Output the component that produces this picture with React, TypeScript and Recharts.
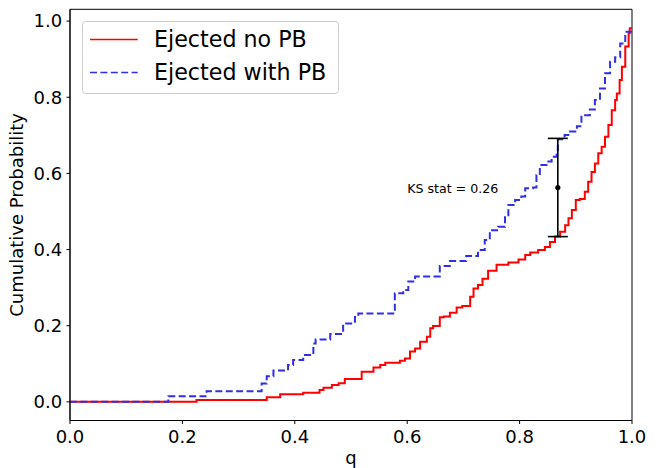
import React from 'react';
import {
  ComposedChart,
  Line,
  Scatter,
  ErrorBar,
  XAxis,
  YAxis,
  Legend,
  ReferenceDot,
  ReferenceArea,
} from 'recharts';

// ---- data ----
const qNoPB = [
  0, 0.225, 0.35, 0.374, 0.415, 0.444, 0.451, 0.466, 0.478, 0.489, 0.519, 0.54, 0.552, 0.561, 0.587,
  0.596, 0.605, 0.614, 0.623, 0.635, 0.641, 0.646, 0.658, 0.665, 0.676, 0.688, 0.698, 0.712, 0.718,
  0.726, 0.734, 0.744, 0.759, 0.78, 0.798, 0.81, 0.819, 0.833, 0.845, 0.854, 0.863, 0.872, 0.881,
  0.887, 0.893, 0.9, 0.907, 0.916, 0.922, 0.928, 0.934, 0.94, 0.946, 0.952, 0.958, 0.964, 0.97,
  0.973, 0.978, 0.982, 0.988, 0.994, 0.996, 1.0,
];
const cdfNoPB = [
  0, 0.005, 0.012, 0.02, 0.024, 0.031, 0.037, 0.044, 0.049, 0.06, 0.079, 0.09, 0.097, 0.103, 0.108,
  0.114, 0.132, 0.14, 0.158, 0.171, 0.193, 0.199, 0.222, 0.224, 0.234, 0.248, 0.252, 0.276, 0.298,
  0.307, 0.323, 0.344, 0.36, 0.366, 0.374, 0.386, 0.392, 0.399, 0.407, 0.42, 0.434, 0.447, 0.464,
  0.482, 0.504, 0.53, 0.533, 0.552, 0.578, 0.604, 0.626, 0.653, 0.67, 0.696, 0.727, 0.766, 0.793,
  0.81, 0.845, 0.88, 0.933, 0.968, 0.981, 0.981,
];
const qWithPB = [
  0, 0.175, 0.243, 0.341, 0.35, 0.362, 0.388, 0.397, 0.415, 0.433, 0.437, 0.463, 0.486, 0.507, 0.513,
  0.578, 0.593, 0.602, 0.614, 0.658, 0.676, 0.705, 0.726, 0.738, 0.747, 0.762, 0.774, 0.78, 0.792,
  0.803, 0.81, 0.824, 0.83, 0.836, 0.848, 0.857, 0.866, 0.868, 0.88, 0.89, 0.902, 0.91, 0.925,
  0.934, 0.943, 0.952, 0.961, 0.97, 0.979, 0.988, 1.0,
];
const cdfWithPB = [
  0, 0.015, 0.028, 0.048, 0.067, 0.082, 0.097, 0.11, 0.123, 0.153, 0.164, 0.178, 0.206, 0.223, 0.232,
  0.285, 0.294, 0.316, 0.329, 0.357, 0.37, 0.383, 0.399, 0.425, 0.451, 0.46, 0.49, 0.517, 0.53,
  0.539, 0.561, 0.563, 0.596, 0.622, 0.631, 0.644, 0.661, 0.69, 0.701, 0.71, 0.724, 0.753, 0.768,
  0.793, 0.823, 0.863, 0.893, 0.905, 0.941, 0.972, 0.975,
];
const seriesNames = ['Ejected no PB', 'Ejected with PB'];
const xTicks = [0, 0.2, 0.4, 0.6, 0.8, 1.0];
const yTicks = [0, 0.2, 0.4, 0.6, 0.8, 1.0];
const xDomain = [0, 1];
const yDomain = [-0.049, 1.031];
const ksQ = [0.868];
const ksLow = [0.434];
const ksHigh = [0.692];
const ksLabel = 'KS stat = 0.26';
const ksLabelQ = 0.6;
const ksLabelP = 0.561;

const noPB = qNoPB.map((q, i) => ({ q, p: cdfNoPB[i] }));
const withPB = qWithPB.map((q, i) => ({ q, p: cdfWithPB[i] }));
const ks = ksQ.map((q, i) => ({
  q,
  p: (ksLow[i] + ksHigh[i]) / 2,
  err: (ksHigh[i] - ksLow[i]) / 2,
}));

const FONT = '"DejaVu Sans", sans-serif';
const RED = '#ff0000';
const BLUE = '#2f2fe6';
const DASH = '7 3.4';

const LegendBox = (props: any) => {
  const payload = (props.payload || []).filter((e: any) => e.type !== 'none');
  return (
    <svg width={258} height={74} style={{ display: 'block', fontFamily: FONT }}>
      <rect x={0.5} y={0.5} width={256} height={72} rx={3} fill="#fff" fillOpacity={0.8} stroke="#cccccc" />
      {payload.map((e: any, i: number) => (
        <g key={i}>
          <line
            x1={8}
            x2={55.7}
            y1={18.6 + 33 * i}
            y2={18.6 + 33 * i}
            stroke={e.color}
            strokeWidth={1.5}
            strokeDasharray={e.payload && e.payload.strokeDasharray}
          />
          <text x={72} y={26 + 33 * i} fontSize={22.2} fill="#000">
            {e.value}
          </text>
        </g>
      ))}
    </svg>
  );
};

const YLabel = (props: any) => {
  const vb = props.viewBox || { x: 0, y: 0, width: 0, height: 0 };
  const cx = vb.x + 23.5;
  const cy = vb.y + vb.height / 2;
  return (
    <text
      x={cx}
      y={cy}
      transform={`rotate(-90 ${cx} ${cy})`}
      textAnchor="middle"
      fontSize={18}
      fill="#000"
      fontFamily={FONT}
    >
      Cumulative Probability
    </text>
  );
};

export default function App() {
  return (
    <div style={{ position: 'absolute', left: 0, top: 0, background: '#fff' }}>
      <ComposedChart
        width={660}
        height={468}
        margin={{ top: 9.3, right: 28, bottom: 0, left: 0 }}
        style={{ fontFamily: FONT }}
      >
        <XAxis
          dataKey="q"
          type="number"
          domain={xDomain}
          ticks={xTicks}
          allowDataOverflow
          tickFormatter={(v: number) => v.toFixed(1)}
          height={47.5}
          tickSize={3.5}
          tickMargin={6.5}
          stroke="#000"
          tick={{ fill: '#000', fontSize: 18, fontFamily: FONT }}
          label={{ value: 'q', position: 'insideBottom', offset: 4.5, fill: '#000', fontSize: 18, fontFamily: FONT }}
        />
        <YAxis
          dataKey="p"
          type="number"
          domain={yDomain}
          ticks={yTicks}
          allowDataOverflow
          tickFormatter={(v: number) => v.toFixed(1)}
          width={70}
          tickSize={3.5}
          tickMargin={4.3}
          stroke="#000"
          tick={{ fill: '#000', fontSize: 18, fontFamily: FONT }}
          label={{ content: YLabel }}
        />
        <ReferenceArea
          x1={xDomain[0]}
          x2={xDomain[1]}
          y1={yDomain[0]}
          y2={yDomain[1]}
          fill="none"
          fillOpacity={0}
          stroke="#000"
          strokeWidth={1}
          ifOverflow="visible"
        />
        <Legend
          layout="vertical"
          align="center"
          verticalAlign="middle"
          content={LegendBox}
          wrapperStyle={{ left: 82, top: 20.5, width: 258, height: 74, margin: 0, padding: 0, lineHeight: 0 }}
        />
        <Line
          data={noPB}
          dataKey="p"
          name={seriesNames[0]}
          type="stepAfter"
          stroke={RED}
          strokeWidth={2}
          dot={false}
          activeDot={false}
          isAnimationActive={false}
        />
        <Line
          data={withPB}
          dataKey="p"
          name={seriesNames[1]}
          type="stepAfter"
          stroke={BLUE}
          strokeWidth={2}
          strokeDasharray={DASH}
          dot={false}
          activeDot={false}
          isAnimationActive={false}
        />
        <Scatter
          data={ks}
          dataKey="p"
          legendType="none"
          fill="#000"
          isAnimationActive={false}
          shape={(props: any) => <circle cx={props.cx} cy={props.cy} r={2.6} fill="#000" />}
        >
          <ErrorBar dataKey="err" direction="y" width={10} stroke="#000" strokeWidth={1.6} isAnimationActive={false} />
        </Scatter>
        <ReferenceDot
          x={ksLabelQ}
          y={ksLabelP}
          r={0.01}
          fill="none"
          stroke="none"
          label={{ value: ksLabel, position: 'right', offset: 0, fill: '#000', fontSize: 12.6, fontFamily: FONT }}
        />
      </ComposedChart>
    </div>
  );
}
